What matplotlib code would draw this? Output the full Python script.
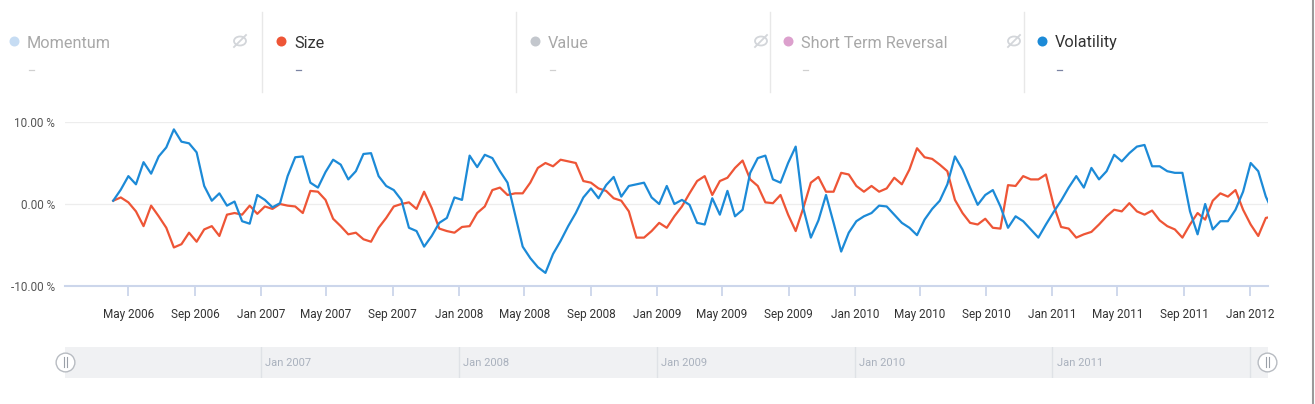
import matplotlib
matplotlib.use("Agg")
import matplotlib.pyplot as plt
from matplotlib.lines import Line2D
from matplotlib.patches import Ellipse
import pandas as pd

plt.rcParams['font.family'] = ['Roboto', 'DejaVu Sans']

# ---------------- data ----------------
start_date = "2006-04-03"
step = "14D"

size_values = [
    0.4, 0.8, 0.2, -0.9, -2.7, -0.2, -1.5, -2.9, -5.3, -4.9, -3.5, -4.6, -3.1, -2.7, -3.9, -1.3,
    -1.1, -1.3, -0.2, -1.2, -0.3, -0.6,
    0.0, -0.2, -0.3, -1.1, 1.6, 1.5, 0.5, -1.8, -2.7, -3.7, -3.5, -4.3, -4.6, -2.9, -1.7, -0.3,
    0.0, 0.2, -0.6, 1.5, -0.5, -3.0,
    -3.3, -3.5, -2.8, -2.7, -1.1, -0.3, 1.7, 2.0, 1.1, 1.3, 1.3, 2.6, 4.4, 5.0, 4.6, 5.4,
    5.2, 5.0, 2.8, 2.6, 1.9, 1.6,
    0.7, 0.4, -0.9, -4.1, -4.1, -3.3, -2.3, -2.9, -1.5, -0.3, 1.3, 2.8, 3.4, 1.1, 2.8, 3.2,
    4.4, 5.3, 3.0, 2.2, 0.2,
    0.1, 1.1, -1.3, -3.3, -0.5, 2.6, 3.3, 1.5, 1.5, 3.8, 3.6, 2.2, 1.5, 2.2, 1.5, 1.9,
    3.2, 2.4, 4.2, 6.8, 5.7, 5.5,
    4.8, 4.0, 0.5, -1.1, -2.3, -2.5, -1.8, -2.9, -3.0, 2.3, 2.2, 3.4, 3.0, 3.0, 3.6, -0.1,
    -2.8, -3.0, -4.1, -3.7, -3.4, -2.5,
    -1.5, -0.7, -0.9, 0.1, -0.9, -1.3, -0.8, -2.0, -2.7, -3.1, -4.1, -2.5, -1.1, -1.9, 0.4, 1.3,
    0.9, 1.7, -0.7, -2.5, -3.9, -1.7, -1.5,
]

volatility_values = [
    0.4, 1.75, 3.4, 2.4, 5.1, 3.7, 5.8, 6.9, 9.1, 7.6, 7.4, 6.3, 2.2, 0.4, 1.3, -0.2,
    0.3, -2.1, -2.4, 1.1, 0.5, -0.4,
    0.1, 3.4, 5.7, 5.8, 2.6, 2.0, 3.9, 5.4, 4.8, 3.0, 4.0, 6.1, 6.2, 3.4, 2.2, 1.7,
    0.5, -2.9, -3.3, -5.2, -3.9, -2.3,
    -1.7, 0.8, 0.5, 5.9, 4.5, 6.0, 5.6, 4.0, 2.6, -1.3, -5.2, -6.6, -7.7, -8.4, -6.1, -4.5,
    -2.7, -1.1, 0.8, 1.9, 0.7, 2.3,
    3.3, 0.9, 2.2, 2.4, 2.6, 0.8, 0.0, 2.2, 0.0, 0.5, -0.1, -2.3, -2.5, 0.7, -1.3, 1.6,
    -1.5, -0.7, 3.8, 5.6, 5.9,
    3.0, 2.6, 5.0, 7.0, -0.5, -4.1, -2.0, 1.1, -2.3, -5.8, -3.5, -2.1, -1.5, -1.1, -0.2, -0.3,
    -1.3, -2.3, -2.9, -3.8, -1.9, -0.6,
    0.4, 2.4, 5.8, 4.2, 2.0, -0.1, 1.1, 1.7, -0.3, -2.9, -1.5, -2.1, -3.1, -4.1, -2.5, -1.0,
    0.4, 2.0, 3.4, 2.0, 4.4, 3.0,
    4.0, 6.0, 5.2, 6.2, 7.0, 7.2, 4.6, 4.6, 4.0, 3.8, 3.8, -0.9, -3.7, 0.0, -3.1, -2.1,
    -2.1, -0.7, 1.5, 5.0, 4.0, 0.9, -1.1,
]

dates = pd.date_range(start_date, periods=len(size_values), freq=step)

legend_names = ["Momentum", "Size", "Value", "Short Term Reversal", "Volatility"]
legend_dot_colors = ["#c6dcf3", "#ee5536", "#c3c7cd", "#dca0cd", "#1c8ad7"]
legend_text_colors = ["#a8a8a8", "#333333", "#a8a8a8", "#a8a8a8", "#333333"]
legend_active = [False, True, False, False, True]

y_ticks = [-10, 0, 10]
x_tick_dates = pd.date_range("2006-05-01", "2012-01-01", freq="4MS")
nav_tick_dates = pd.date_range("2007-01-01", "2012-01-01", freq="YS")
nav_label_years = [2007, 2008, 2009, 2010, 2011]

RED = "#ee5536"
BLUE = "#1c8ad7"

# ---------------- figure ----------------
W, H = 1315, 404
fig = plt.figure(figsize=(W / 100, H / 100), dpi=100)
fig.patch.set_facecolor("white")


def fx(px):
    return px / W


def fy(py):
    return 1 - py / H


x_left = pd.Timestamp("2006-01-04")
x_right = pd.Timestamp("2012-02-03")

ax = fig.add_axes([fx(65), fy(286), fx(1268) - fx(65), fy(122) - fy(286)])
ax.plot(dates, size_values, color=RED, lw=1.6, solid_joinstyle="round", zorder=3)
ax.plot(dates, volatility_values, color=BLUE, lw=1.6, solid_joinstyle="round", zorder=4)
ax.set_xlim(x_left, x_right)
ax.set_ylim(-10, 10)

for s in ["top", "right", "left"]:
    ax.spines[s].set_visible(False)
ax.spines["bottom"].set_color("#ccd6eb")
ax.spines["bottom"].set_linewidth(1.5)
ax.spines["bottom"].set_zorder(5)

ax.set_yticks(y_ticks)
ax.set_yticklabels([f"{v:.2f} %" for v in y_ticks])
ax.yaxis.grid(True, color="#ededed", lw=0.9)
ax.set_axisbelow(True)
ax.tick_params(axis="y", length=0, pad=7, labelsize=8.5, labelcolor="#555555")

ax.set_xticks(x_tick_dates)
ax.set_xticklabels([d.strftime("%b %Y") for d in x_tick_dates])
ax.tick_params(axis="x", length=7.5, width=1.3, color="#ccd6eb", pad=8,
               labelsize=8.5, labelcolor="#333333")

# ---------------- legend header ----------------
dot_x = [14, 281, 535, 788, 1042]
for i, name in enumerate(legend_names):
    x0 = dot_x[i]
    fig.add_artist(Line2D([fx(x0)], [fy(41)], marker="o", markersize=7.2,
                          markerfacecolor=legend_dot_colors[i], markeredgewidth=0,
                          transform=fig.transFigure))
    fig.text(fx(x0 + 13), fy(43), name, fontsize=11.7, color=legend_text_colors[i],
             va="center", ha="left")
    dash_color = "#7b84a3" if legend_active[i] else "#d0d0d0"
    fig.add_artist(Line2D([fx(x0 + 15), fx(x0 + 20)], [fy(70), fy(70)], color=dash_color,
                          lw=0.9, transform=fig.transFigure))
    if not legend_active[i]:
        ix = x0 + 226
        fig.add_artist(Ellipse((fx(ix), fy(41)), 12 / W, 9 / H, fill=False,
                               edgecolor="#d3d6da", lw=1.3, transform=fig.transFigure))
        fig.add_artist(Line2D([fx(ix - 6), fx(ix + 6)], [fy(47), fy(35)], color="#d3d6da",
                              lw=1.3, transform=fig.transFigure))

for sx in [262, 516, 770, 1024]:
    fig.add_artist(Line2D([fx(sx), fx(sx)], [fy(12), fy(92)], color="#e8e8e8", lw=1,
                          transform=fig.transFigure))

# ---------------- navigator ----------------
nav = fig.add_axes([fx(65), fy(378), fx(1268) - fx(65), fy(347) - fy(378)])
nav.set_facecolor("#f0f1f3")
nav.set_xlim(x_left, x_right)
nav.set_ylim(0, 1)
nav.set_xticks([])
nav.set_yticks([])
for s in nav.spines.values():
    s.set_visible(False)
for d in nav_tick_dates:
    nav.axvline(d, color="#dfe2e6", lw=1)
for yr in nav_label_years:
    nav.annotate(f"Jan {yr}", xy=(pd.Timestamp(f"{yr}-01-01"), 0.5), xytext=(3, 0),
                 textcoords="offset points", va="center", ha="left", fontsize=8,
                 color="#a9b1bd")

for hx in [65, 1267]:
    fig.add_artist(Line2D([fx(hx)], [fy(362)], marker="o", markersize=13.5,
                          markerfacecolor="white", markeredgecolor="#b8bcc2",
                          markeredgewidth=1, transform=fig.transFigure, zorder=10))
    for dx in (-1.5, 1.5):
        fig.add_artist(Line2D([fx(hx + dx), fx(hx + dx)], [fy(357), fy(367)],
                              color="#9aa0a8", lw=0.8, transform=fig.transFigure, zorder=11))

fig.add_artist(Line2D([fx(1313), fx(1313)], [0, 1], color="#9a9a9a", lw=1.5,
                      transform=fig.transFigure))

fig.savefig("out.png", dpi=100)
